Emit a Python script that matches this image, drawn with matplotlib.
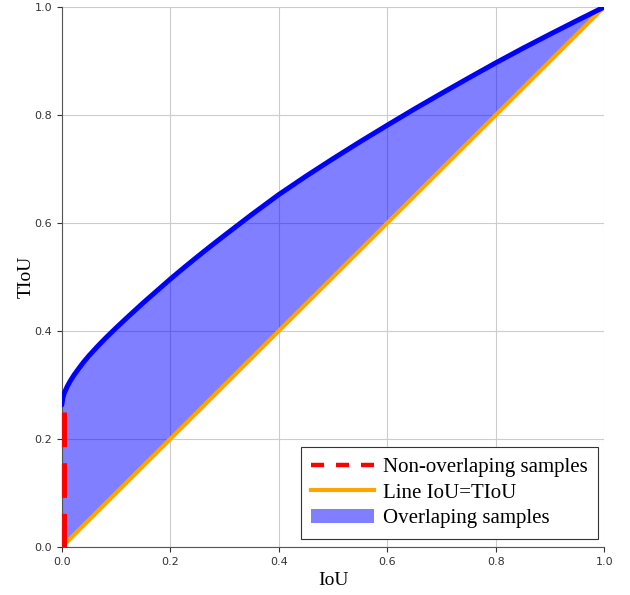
import numpy as np
import matplotlib
matplotlib.use('Agg')
import matplotlib.pyplot as plt
from matplotlib.lines import Line2D
from matplotlib.patches import Patch

#%% data

iou_upper = [0.0, 0.002, 0.005, 0.01, 0.016, 0.023, 0.031, 0.04, 0.05, 0.065,
             0.08, 0.1, 0.125, 0.15, 0.175, 0.2, 0.225, 0.25, 0.275, 0.3,
             0.35, 0.4, 0.45, 0.5, 0.55, 0.6, 0.65, 0.7, 0.75, 0.8,
             0.85, 0.9, 0.95, 1.0]
tiou_upper = [0.263, 0.276, 0.286, 0.297, 0.308, 0.319, 0.330, 0.342, 0.354, 0.3705,
              0.386, 0.4056, 0.429, 0.452, 0.474, 0.496, 0.517, 0.5375, 0.5575, 0.577,
              0.6155, 0.6525, 0.6865, 0.719, 0.7505, 0.781, 0.811, 0.840, 0.8685, 0.8965,
              0.9235, 0.9495, 0.975, 1.0]
iou_diag = [0.0, 1.0]
tiou_diag = [0.0, 1.0]
non_overlap_x = [0.005, 0.005]
non_overlap_y = [0.25, 0.0]

#%% plot

plt.rcParams['lines.scale_dashes'] = False
serif = ['Liberation Serif', 'DejaVu Serif']

fig = plt.figure(figsize=(6.3, 5.95), dpi=100)
ax = fig.add_axes([0.098, 0.0807, 0.861, 0.9075])

u = np.array(iou_upper)
ax.fill_between(u, tiou_upper, u, color='blue', alpha=0.5, linewidth=0, zorder=2)
ax.plot(iou_diag, tiou_diag, color='orange', linewidth=3, zorder=3)
ax.plot(iou_upper, tiou_upper, color='blue', linewidth=3.6, zorder=4,
        solid_capstyle='round', solid_joinstyle='round')
ax.plot(non_overlap_x, non_overlap_y, color='red', linewidth=3.6, zorder=5,
        dashes=(25, 11.5), clip_on=False)

ax.set_xlim(0, 1)
ax.set_ylim(0, 1)
ax.set_xticks(np.arange(0, 1.01, 0.2))
ax.set_yticks(np.arange(0, 1.01, 0.2))
ax.tick_params(labelsize=8, colors='#333333')
ax.grid(True, color='#cccccc', linewidth=0.8, zorder=0)
ax.set_axisbelow(True)
for s in ['top', 'right']:
    ax.spines[s].set_visible(False)
for s in ['left', 'bottom']:
    ax.spines[s].set_color('#555555')

ax.set_xlabel('IoU', fontsize=14, family=serif, labelpad=4)
ax.set_ylabel('TIoU', fontsize=14, family=serif, labelpad=0)

handles = [Line2D([], [], color='red', linewidth=3.2, dashes=(9.4, 8.6)),
           Line2D([], [], color='orange', linewidth=3),
           Patch(facecolor='blue', alpha=0.5, edgecolor='none')]
labels = ['Non-overlaping samples', 'Line IoU=TIoU', 'Overlaping samples']
leg = ax.legend(handles, labels, loc='lower right', bbox_to_anchor=(0.989, 0.015),
                borderaxespad=0, prop={'family': serif, 'size': 15},
                fancybox=False, edgecolor='#333333', framealpha=1,
                handlelength=3.0, labelspacing=0.3, handletextpad=0.45, borderpad=0.5)
leg.get_frame().set_linewidth(0.8)

plt.savefig('out.png', dpi=100)
